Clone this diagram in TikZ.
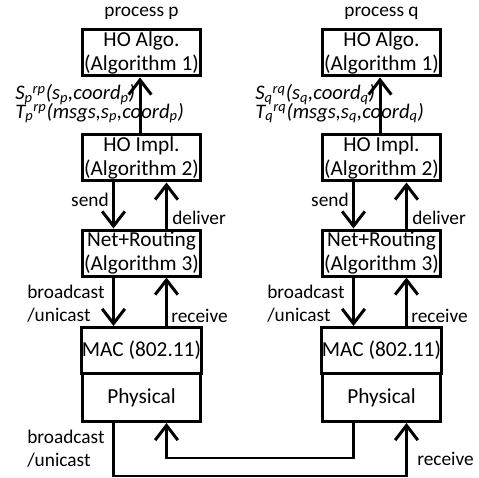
\documentclass[tikz,border=0pt]{standalone}
\usepackage{fontspec}
\setmainfont{Carlito}
\usetikzlibrary{arrows.meta}

\begin{document}
\begin{tikzpicture}
[
  x=0.75pt, y=-0.75pt,
  font=\fontsize{14.5}{17}\selectfont,
  layer/.style={draw,line width=2.25pt,minimum width=88.5pt,minimum height=34.5pt,inner sep=0pt,align=center,font=\fontsize{16}{18}\selectfont},
  conn/.style={line width=2.25pt,-{Straight Barb[length=11pt,width=17pt,line width=2.25pt]}},
  link/.style={line width=2pt,-{Straight Barb[length=11pt,width=17pt,line width=2.25pt]}},
  lbl/.style={inner sep=0pt,align=left},
  rule/.style={inner sep=0pt,anchor=base west,font=\fontsize{15.5}{17}\selectfont\itshape}
]
\useasboundingbox (0,0) rectangle (479,478);

% process p
\node[lbl] (titleP) at (141.5,13) {process p};
\node[layer] (algoP) at (141.5,53) {HO Algo.\\(Algorithm 1)};
\node[layer] (implP) at (141.5,158) {HO Impl.\\(Algorithm 2)};
\node[layer] (netP) at (141.5,253) {Net+Routing\\(Algorithm 3)};
\node[layer] (macP) at (141.5,350.5) {MAC (802.11)};
\node[layer,minimum height=36pt] (phyP) at (141.5,397.5) {Physical};

\draw[conn] ([xshift=-1.125pt]implP.north) -- ([xshift=-1.125pt]algoP.south);
\draw[conn] ([xshift=-21pt]implP.south) -- ([xshift=-21pt]netP.north);
\draw[conn] ([xshift=18.75pt]netP.north) -- ([xshift=18.75pt]implP.south);
\draw[conn] ([xshift=-21pt]netP.south) -- ([xshift=-21pt]macP.north);
\draw[conn] ([xshift=18.75pt]macP.north) -- ([xshift=18.75pt]netP.south);

\node[rule] (stepSP) at (15,100)
  {S\textsubscript{p}\textsuperscript{rp}(s\textsubscript{p},coord\textsubscript{p})};
\node[rule] (stepTP) at (15,118)
  {T\textsubscript{p}\textsuperscript{rp}(msgs,s\textsubscript{p},coord\textsubscript{p})};
\node[lbl,anchor=east] (sendP) at (109,200) {send};
\node[lbl,anchor=west] (deliverP) at (172,218) {deliver};
\node[lbl,anchor=west] (bcastP) at (27,304) {broadcast\\/unicast};
\node[lbl,anchor=west] (recvP) at (171,316) {receive};

% process q
\node[lbl] (titleQ) at (381.5,13) {process q};
\node[layer] (algoQ) at (381.5,53) {HO Algo.\\(Algorithm 1)};
\node[layer] (implQ) at (381.5,158) {HO Impl.\\(Algorithm 2)};
\node[layer] (netQ) at (381.5,253) {Net+Routing\\(Algorithm 3)};
\node[layer] (macQ) at (381.5,350.5) {MAC (802.11)};
\node[layer,minimum height=36pt] (phyQ) at (381.5,397.5) {Physical};

\draw[conn] ([xshift=-1.125pt]implQ.north) -- ([xshift=-1.125pt]algoQ.south);
\draw[conn] ([xshift=-21pt]implQ.south) -- ([xshift=-21pt]netQ.north);
\draw[conn] ([xshift=18.75pt]netQ.north) -- ([xshift=18.75pt]implQ.south);
\draw[conn] ([xshift=-21pt]netQ.south) -- ([xshift=-21pt]macQ.north);
\draw[conn] ([xshift=18.75pt]macQ.north) -- ([xshift=18.75pt]netQ.south);

\node[rule] (stepSQ) at (255,100)
  {S\textsubscript{q}\textsuperscript{rq}(s\textsubscript{q},coord\textsubscript{q})};
\node[rule] (stepTQ) at (255,118)
  {T\textsubscript{q}\textsuperscript{rq}(msgs,s\textsubscript{q},coord\textsubscript{q})};
\node[lbl,anchor=east] (sendQ) at (349,200) {send};
\node[lbl,anchor=west] (deliverQ) at (412,218) {deliver};
\node[lbl,anchor=west] (bcastQ) at (267,304) {broadcast\\/unicast};
\node[lbl,anchor=west] (recvQ) at (411,316) {receive};

% medium
\draw[link] ([xshift=-21pt]phyP.south) -- ++(0,53) -| ([xshift=18.75pt]phyQ.south);
\draw[link] ([xshift=-21pt]phyQ.south) -- ++(0,35) -| ([xshift=18.75pt]phyP.south);
\node[lbl,anchor=west] (bcastM) at (27,449) {broadcast\\/unicast};
\node[lbl,anchor=west] (recvM) at (417,459) {receive};

\end{tikzpicture}
\end{document}
